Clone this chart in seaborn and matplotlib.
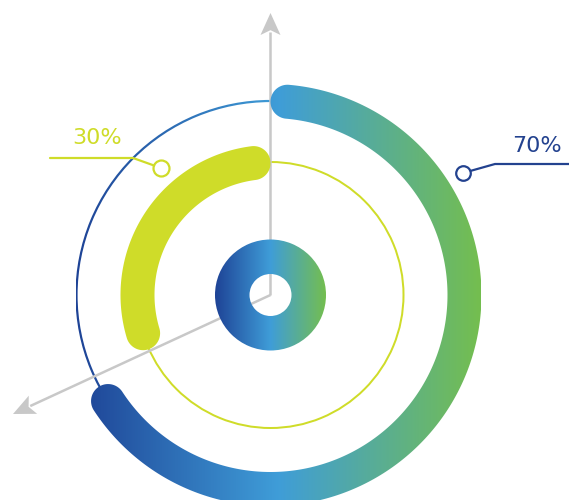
import numpy as np
import matplotlib
matplotlib.use("Agg")
import matplotlib.pyplot as plt
import seaborn as sns
from matplotlib.patches import Polygon, Wedge

# ---- data ----
series = ["outer", "inner"]
values = [70, 30]
labels = ["70%", "30%"]

sns.set_theme(style="white")
plt.rcParams['font.family'] = ['DejaVu Sans']

W, H = 569, 500
fig = plt.figure(figsize=(W / 100, H / 100), dpi=100)
ax = fig.add_axes([0, 0, 1, 1])

cx, cy = 270.5, 295.0
cmap = sns.blend_palette(["#1e4396", "#3f9dd8", "#74be4f"], as_cmap=True)
yellow = "#cfdc29"
navy = "#23428f"
gray = "#c8c8c8"
K = 0.92  # fraction of the sweep drawn (caps take the rest)


def pt(r, th):
    return cx + r * np.cos(np.radians(th)), cy - r * np.sin(np.radians(th))


def band(r, w, th0, th1, n=300):
    sgn = np.sign(th1 - th0)
    ths = np.linspace(th0, th1, n)
    pts = [pt(r + w / 2, t) for t in ths]
    ex, ey = pt(r, th1)
    for a in np.linspace(th1, th1 + sgn * 180, 60):
        pts.append((ex + w / 2 * np.cos(np.radians(a)), ey - w / 2 * np.sin(np.radians(a))))
    pts += [pt(r - w / 2, t) for t in ths[::-1]]
    sx, sy = pt(r, th0)
    for a in np.linspace(th0 + 180, th0 + 180 + sgn * 180, 60):
        pts.append((sx + w / 2 * np.cos(np.radians(a)), sy - w / 2 * np.sin(np.radians(a))))
    return Polygon(pts, closed=True)


def grad_fill(patch, x0, x1, z):
    patch.set_transform(ax.transData)
    grad = np.linspace(0, 1, 512).reshape(1, -1)
    im = ax.imshow(grad, cmap=cmap, extent=(x0, x1, H, 0), aspect='auto',
                   zorder=z, interpolation='bicubic')
    im.set_clip_path(patch)


def arrow(x0, y0, x1, y1, L=22, Wd=10):
    u = np.array([x1 - x0, y1 - y0], float)
    u /= np.linalg.norm(u)
    nrm = np.array([-u[1], u[0]])
    tip = np.array([x1, y1])
    base = tip - L * u
    ax.plot([x0, base[0] + 3 * u[0]], [y0, base[1] + 3 * u[1]], color=gray, lw=1.8,
            zorder=3, solid_capstyle='butt')
    head = [tip, base + Wd * nrm, tip - 0.78 * L * u, base - Wd * nrm]
    ax.add_patch(Polygon(head, closed=True, color=gray, zorder=3, lw=0))


# thin reference circles
r_out, r_in, bw = 194.0, 133.0, 34.0
thin_out = Wedge((cx, cy), r_out + 1.1, 0, 360, width=2.2)
grad_fill(thin_out, cx - r_out, cx + r_out + bw / 2, 2)
ax.add_patch(Wedge((cx, cy), r_in + 1.0, 0, 360, width=2.0, color=yellow, zorder=2, lw=0))

# axes arrows
arrow(cx, cy, cx, 13)
arrow(cx, cy, 13, 414)

# outer thick arc (clockwise from top)
off_o = np.degrees((bw / 2) / r_out)
th0 = 90 - off_o
th1 = th0 - values[0] * 3.6 * K
grad_fill(band(r_out, bw, th0, th1), cx - r_out, cx + r_out + bw / 2, 5)

# inner thick arc (counter-clockwise from top)
off_i = np.degrees((bw / 2) / r_in)
t0 = 90 + off_i
t1 = t0 + values[1] * 3.6 * K
p_in = band(r_in, bw, t0, t1)
p_in.set_facecolor(yellow)
p_in.set_edgecolor('none')
p_in.set_zorder(5)
ax.add_patch(p_in)

# centre donut
donut = Wedge((cx, cy), 55.5, 0, 360, width=34.5)
grad_fill(donut, cx - 55.5, cx + 55.5, 6)

# leaders and labels
ax.plot([569, 495, 463], [164, 164, 173], color=navy, lw=1.6, zorder=7)
ax.plot([463], [173], marker='o', ms=10.5, mfc='white', mec=navy, mew=1.6, zorder=8)
ax.text(537, 146.5, labels[0], ha='center', va='center', fontsize=16, color=navy, zorder=8)

ax.plot([50, 133, 161], [158, 158, 168], color=yellow, lw=1.6, zorder=7)
ax.plot([161], [168], marker='o', ms=11.5, mfc='white', mec=yellow, mew=1.6, zorder=8)
ax.text(97, 137.5, labels[1], ha='center', va='center', fontsize=16, color=yellow, zorder=8)

ax.set_xlim(0, W)
ax.set_ylim(H, 0)
ax.set_aspect('equal')
ax.axis('off')
fig.savefig("out.png", dpi=100, facecolor='white')
